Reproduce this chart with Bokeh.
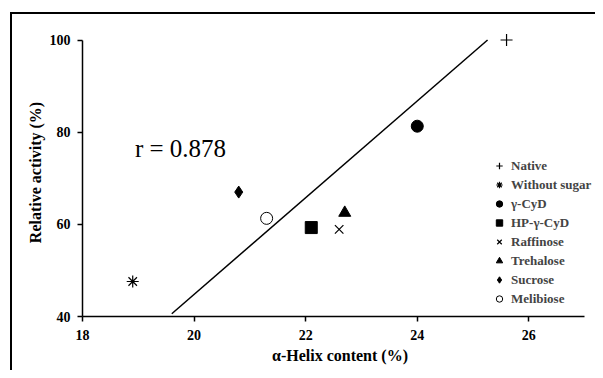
from bokeh.plotting import figure
from bokeh.models import FixedTicker, Range1d, Legend, LegendItem
from bokeh.embed import file_html
from bokeh.resources import INLINE
from bokeh.core.properties import value

# ---- data ----
names = ["Native", "Without sugar", "γ-CyD", "HP-γ-CyD", "Raffinose", "Trehalose", "Sucrose", "Melibiose"]
helix = [25.6, 18.9, 24.0, 22.1, 22.6, 22.7, 20.8, 21.3]
activity = [100.0, 47.6, 81.3, 59.3, 58.9, 62.5, 67.0, 61.3]
markers = ["cross", "asterisk", "circle", "square", "x", "triangle", "diamond", "circle"]
fills = ["black", "black", "black", "black", "black", "black", "black", "white"]
fit_x = [19.6, 25.26]
fit_y = [40.6, 100.0]
x_ticks = [18, 20, 22, 24, 26]
y_ticks = [40, 60, 80, 100]
r_label = "r = 0.878"

SERIF = "Liberation Serif"

p = figure(width=585, height=358, output_backend="svg", toolbar_location=None,
           x_range=Range1d(18, 27.23), y_range=Range1d(40, 102.5),
           min_border_left=70, min_border_right=0, min_border_top=14, min_border_bottom=56)
# panel frame of the original figure: only its top and left edges are visible
p.styles = {"margin-left": "12px", "margin-top": "14px",
            "box-shadow": "-2px -2px 0px 0px black"}
p.outline_line_color = None
p.grid.visible = False
p.background_fill_color = "white"
p.border_fill_color = "white"

for ax in (p.xaxis[0], p.yaxis[0]):
    ax.axis_line_width = 1.5
    ax.axis_line_color = "black"
    ax.major_tick_line_color = "black"
    ax.major_tick_line_width = 1.5
    ax.major_tick_out = 5
    ax.major_tick_in = 0
    ax.minor_tick_line_color = None
    ax.major_label_text_font = SERIF
    ax.major_label_text_font_style = "bold"
    ax.major_label_text_font_size = "14px"
    ax.major_label_text_color = "black"
    ax.axis_label_text_font = SERIF
    ax.axis_label_text_font_style = "bold"
    ax.axis_label_text_font_size = "16px"
    ax.axis_label_text_color = "black"

p.xaxis.ticker = FixedTicker(ticks=x_ticks)
p.yaxis.ticker = FixedTicker(ticks=y_ticks)
p.xaxis.bounds = (18, 27)
p.yaxis.bounds = (40, 100)
p.xaxis.axis_label = "α-Helix content (%)"
p.yaxis.axis_label = "Relative activity (%)"
p.xaxis.major_label_standoff = 8
p.yaxis.major_label_standoff = 7
p.xaxis.axis_label_standoff = 4
p.yaxis.axis_label_standoff = 3

p.line(fit_x, fit_y, line_color="black", line_width=1.5)

items = []
for n, hx, ac, mk, fc in zip(names, helix, activity, markers, fills):
    r = p.scatter([hx], [ac], marker=mk, size=12, fill_color=fc, line_color="black",
                  line_width=1.2 if mk in ("cross", "asterisk", "x") else 1)
    items.append(LegendItem(label=n, renderers=[r]))

p.text(x=[18.94], y=[76.4], text=[r_label], text_font=value(SERIF), text_font_size="25px",
       text_baseline="alphabetic", text_align="left", text_color="black")

legend = Legend(items=items, location=(409, 8), glyph_width=16, glyph_height=19,
                label_height=19, label_standoff=4, spacing=0, padding=0, margin=0,
                label_text_font=SERIF, label_text_font_style="bold", label_text_font_size="13px",
                border_line_color=None, background_fill_alpha=0)
p.add_layout(legend, "center")

open("out.html", "w").write(file_html(p, INLINE))
